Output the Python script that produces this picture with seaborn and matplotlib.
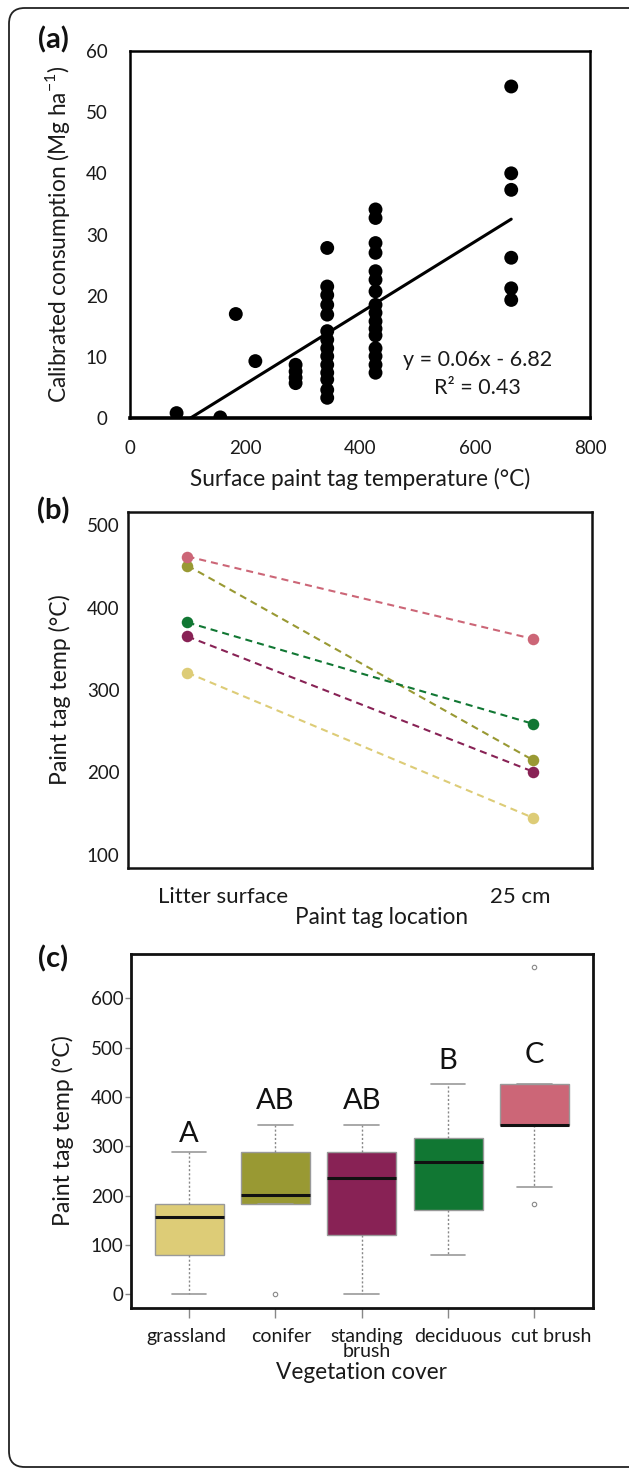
import numpy as np
import pandas as pd
import matplotlib
matplotlib.use("Agg")
import matplotlib.pyplot as plt
import seaborn as sns
from matplotlib.patches import FancyBboxPatch

# ---------------- data ----------------
# (a) surface paint-tag temperature vs calibrated consumption
surface_temp = ([81, 157, 184, 218] + [288] * 4 + [343] * 14 + [427] * 16 + [663] * 6)
consumption = ([0.8, 0.1, 17.0, 9.3]
               + [8.7, 7.6, 6.6, 5.7]
               + [27.8, 21.5, 20.1, 18.5, 16.9, 14.2, 12.8, 11.4, 10.1, 8.7, 7.4, 6.3, 4.6, 3.3]
               + [34.1, 32.7, 28.6, 27.0, 24.0, 22.6, 20.7, 18.5, 17.2, 15.8, 14.6, 13.5,
                  11.4, 10.1, 8.7, 7.4]
               + [54.2, 40.0, 37.3, 26.2, 21.2, 19.3])
fit_text = "y = 0.06x - 6.82\nR² = 0.43"

# (b) mean paint tag temp by location
vegetation = ["grassland", "conifer", "standing brush", "deciduous", "cut brush"]
veg_labels = ["grassland", "conifer", "standing\nbrush", "deciduous", "cut brush"]
locations = ["Litter surface", "25 cm"]
litter_temp = [321, 451, 365, 382, 462]
depth25_temp = [145, 215, 201, 259, 362]
palette = ["#DDCC77", "#999933", "#882255", "#117733", "#CC6677"]

# (c) paint tag temps by vegetation cover
grassland_t = [0, 79, 157, 183, 288]
conifer_t = [0, 183, 183, 183, 218, 288, 288, 343]
standing_t = [0, 121, 235, 288, 343]
deciduous_t = [79, 170, 269, 316, 427]
cutbrush_t = [183, 218, 343, 343, 343, 427, 427, 427, 663]
letters = ["A", "AB", "AB", "B", "C"]
letter_y = [325, 392, 392, 473, 484]

# ---------------- style ----------------
sns.set_theme(style="white")
plt.rcParams["font.family"] = ["Lato", "DejaVu Sans"]
plt.rcParams["mathtext.fontset"] = "custom"
plt.rcParams["mathtext.rm"] = "Lato"

W, H = 629, 1472
fig = plt.figure(figsize=(W / 100, H / 100), dpi=100)


def px_axes(l, t, r, b):
    return fig.add_axes([l / W, 1 - b / H, (r - l) / W, (b - t) / H])


# outer rounded frame
frame = FancyBboxPatch((9 / W, 1 - 1467 / H), (W + 20) / W, (1467 - 8) / H,
                       boxstyle="round,pad=0,rounding_size=0.025",
                       transform=fig.transFigure, fill=False, lw=1.3,
                       edgecolor="#222222", mutation_aspect=W / H, clip_on=False)
fig.patches.append(frame)

TICK = 13.5
LAB = 16.3
TXT = "#1a1a1a"

# ---------------- panel (a) ----------------
ax_a = px_axes(130, 51, 590, 418)
dfa = pd.DataFrame({"temp": surface_temp, "cons": consumption})
sns.regplot(data=dfa, x="temp", y="cons", ci=None, truncate=True, ax=ax_a,
            scatter_kws=dict(s=100, color="black", edgecolor="none", alpha=1),
            line_kws=dict(color="black", lw=2.2))
ax_a.set_xlim(0, 800)
ax_a.set_ylim(0, 60)
ax_a.set_xticks(range(0, 801, 200))
ax_a.set_yticks(range(0, 61, 10))
ax_a.tick_params(axis="both", length=0, labelsize=TICK, colors=TXT)
ax_a.tick_params(axis="y", pad=16)
ax_a.tick_params(axis="x", pad=16)
for s in ax_a.spines.values():
    s.set_color("black")
    s.set_linewidth(1.8)
ax_a.spines["bottom"].set_linewidth(2.6)
ax_a.set_xlabel("Surface paint tag temperature (°C)", fontsize=LAB, color=TXT)
ax_a.set_ylabel("Calibrated consumption (Mg ha$^{\\mathregular{-1}}$)", fontsize=LAB,
                color=TXT)
ax_a.yaxis.set_label_coords(-0.126, 0.5)
ax_a.xaxis.set_label_coords(0.5, -0.135)
ax_a.text(0.918, 0.12, fit_text, transform=ax_a.transAxes, ha="right", va="center",
          fontsize=15.5, color=TXT, linespacing=1.5, multialignment="center")
fig.text(53 / W, 1 - 40 / H, "(a)", fontsize=21, fontweight="bold", ha="center",
         va="center", color="#111111")

# ---------------- panel (b) ----------------
ax_b = px_axes(128, 512, 592, 868)
dfb = pd.DataFrame({
    "veg": vegetation * 2,
    "pos": [1] * len(vegetation) + [2] * len(vegetation),
    "temp": litter_temp + depth25_temp,
})
sns.lineplot(data=dfb, x="pos", y="temp", hue="veg", hue_order=vegetation,
             palette=palette, marker="o", markersize=8.3, markeredgewidth=0,
             linestyle=(0, (3.4, 2.4)), lw=1.5, legend=False, ax=ax_b)
ax_b.set_xlim(0.828, 2.171)
ax_b.set_ylim(84, 516)
ax_b.set_yticks(range(100, 501, 100))
ax_b.set_xticks([1.103, 1.962])
ax_b.set_xticklabels(locations)
ax_b.tick_params(axis="x", length=0, labelsize=16, pad=14, colors=TXT)
ax_b.tick_params(axis="y", length=5, width=1, color="#888888", labelsize=TICK,
                 pad=1, labelcolor=TXT)
for s in ax_b.spines.values():
    s.set_color("#111111")
    s.set_linewidth(1.8)
ax_b.set_xlabel("Paint tag location", fontsize=LAB, color=TXT, labelpad=0)
ax_b.set_ylabel("Paint tag temp (°C)", fontsize=LAB + 0.3, color=TXT)
ax_b.xaxis.set_label_coords(0.546, -0.11)
ax_b.yaxis.set_label_coords(-0.122, 0.5)
fig.text(53 / W, 1 - 511 / H, "(b)", fontsize=21, fontweight="bold", ha="center",
         va="center", color="#111111")

# ---------------- panel (c) ----------------
ax_c = px_axes(130.5, 954, 593, 1307.5)
groups = [grassland_t, conifer_t, standing_t, deciduous_t, cutbrush_t]
dfc = pd.DataFrame({
    "veg": [v for v, g in zip(vegetation, groups) for _ in g],
    "temp": [t for g in groups for t in g],
})
sns.boxplot(data=dfc, x="veg", y="temp", hue="veg", order=vegetation,
            hue_order=vegetation, palette=palette, saturation=1, width=0.8,
            linewidth=1, linecolor="#999999", legend=False, ax=ax_c,
            whiskerprops=dict(linestyle=(0, (1.5, 1.5)), color="#888888", lw=1),
            capprops=dict(color="#999999", lw=1.2),
            medianprops=dict(color="#111111", lw=2.2),
            flierprops=dict(marker="o", markersize=3.2, markerfacecolor="none",
                            markeredgecolor="#888888", markeredgewidth=0.8))
ax_c.set_xlim(-0.68, 4.68)
ax_c.set_ylim(-26.5, 689.5)
ax_c.set_yticks(range(0, 601, 100))
# tick marks at box centres, labels (as minor ticks) slightly shifted as in original
ax_c.set_xticks(range(len(vegetation)))
ax_c.set_xticklabels([""] * len(vegetation))
label_shift = [-0.03, 0.07, 0.06, 0.11, 0.20]
ax_c.set_xticks([i + d for i, d in enumerate(label_shift)], minor=True)
ax_c.set_xticklabels(veg_labels, minor=True)
for t in ax_c.get_xticklabels(minor=True):
    t.set_linespacing(0.85)
ax_c.tick_params(axis="x", which="major", bottom=True, length=7, width=1,
                 color="#888888")
ax_c.tick_params(axis="x", which="minor", bottom=True, length=0, labelsize=14,
                 pad=15, labelcolor=TXT)
ax_c.tick_params(axis="y", left=True, length=4, width=1, color="#888888",
                 labelsize=TICK, pad=1, labelcolor=TXT)
for s in ax_c.spines.values():
    s.set_color("#111111")
    s.set_linewidth(2)
for i, (lt, ly) in enumerate(zip(letters, letter_y)):
    ax_c.text(i, ly, lt, ha="center", va="center", fontsize=21, color="#111111")
ax_c.set_xlabel("Vegetation cover", fontsize=LAB, color=TXT)
ax_c.set_ylabel("Paint tag temp (°C)", fontsize=LAB + 0.3, color=TXT)
ax_c.xaxis.set_label_coords(0.5, -0.155)
ax_c.yaxis.set_label_coords(-0.122, 0.5)
fig.text(53 / W, 1 - 959 / H, "(c)", fontsize=21, fontweight="bold", ha="center",
         va="center", color="#111111")

fig.savefig("out.png", dpi=100)
